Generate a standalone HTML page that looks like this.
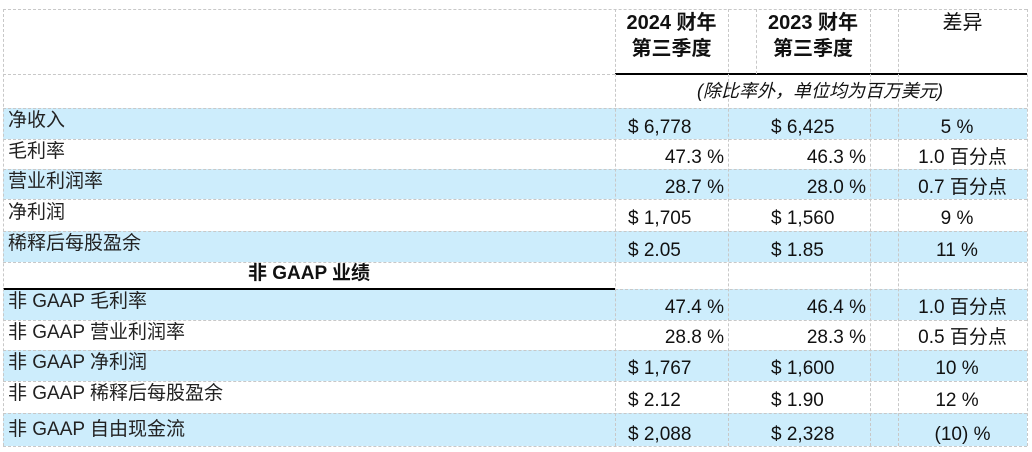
<!DOCTYPE html>
<html><head><meta charset="utf-8"><style>
body{margin:0;width:1032px;height:452px;background:#fff;position:relative;overflow:hidden;font-family:"Liberation Sans","Noto Sans CJK SC",sans-serif;color:#111}
.r{position:absolute;left:3px;width:1024px}
.b{background:#cdedfc}
.h{position:absolute;border-top:1px dashed #c8c8c8}
.v{position:absolute;border-left:1px dashed #c8c8c8}
.t{position:absolute;font-size:19px;line-height:22px;white-space:nowrap}
.l{left:8px;color:#222}
.c{text-align:center}
.hd{font-family:"Liberation Sans Narrow","Liberation Sans","Noto Sans CJK SC",sans-serif;font-size:20px;font-weight:bold;line-height:26px}
</style></head><body>
<div class="r b" style="top:108px;height:31px"></div>
<div class="r b" style="top:169px;height:30px"></div>
<div class="r b" style="top:231px;height:31px"></div>
<div class="r b" style="top:289px;height:31px"></div>
<div class="r b" style="top:350px;height:31px"></div>
<div class="r b" style="top:413px;height:33px"></div>
<div class="h" style="left:3px;width:1024px;top:9px"></div>
<div class="h" style="left:3px;width:612px;top:74px"></div>
<div style="position:absolute;left:615px;width:412px;top:73px;height:2px;background:#000"></div>
<div class="h" style="left:3px;width:1024px;top:108px"></div>
<div class="h" style="left:3px;width:1024px;top:139px"></div>
<div class="h" style="left:3px;width:1024px;top:169px"></div>
<div class="h" style="left:3px;width:1024px;top:199px"></div>
<div class="h" style="left:3px;width:1024px;top:231px"></div>
<div class="h" style="left:3px;width:1024px;top:262px"></div>
<div style="position:absolute;left:3px;width:612px;top:288px;height:2px;background:#000"></div>
<div class="h" style="left:615px;width:412px;top:289px"></div>
<div class="h" style="left:3px;width:1024px;top:320px"></div>
<div class="h" style="left:3px;width:1024px;top:350px"></div>
<div class="h" style="left:3px;width:1024px;top:381px"></div>
<div class="h" style="left:3px;width:1024px;top:413px"></div>
<div class="h" style="left:3px;width:1024px;top:446px"></div>
<div class="v" style="left:3px;top:9px;height:437px"></div>
<div class="v" style="left:615px;top:9px;height:437px"></div>
<div class="v" style="left:728px;top:9px;height:437px"></div>
<div class="v" style="left:756px;top:9px;height:65px"></div>
<div class="v" style="left:870px;top:9px;height:437px"></div>
<div class="v" style="left:898px;top:9px;height:437px"></div>
<div class="v" style="left:1027px;top:9px;height:437px"></div>

<div class="t c hd" style="left:615px;width:113px;top:10px">2024 财年<br>第三季度</div>
<div class="t c hd" style="left:756px;width:114px;top:10px">2023 财年<br>第三季度</div>
<div class="t c hd" style="left:898px;width:129px;top:10px;font-weight:normal">差异</div>
<div class="t" style="left:697px;top:80px;font-style:italic;font-size:18px">(除比率外，单位均为百万美元)</div>

<div class="t l" style="top:110px">净收入</div>
<div class="t l" style="top:141px">毛利率</div>
<div class="t l" style="top:171px">营业利润率</div>
<div class="t l" style="top:202px">净利润</div>
<div class="t l" style="top:233px">稀释后每股盈余</div>
<div class="t c" style="left:3px;width:612px;top:263px;font-weight:bold">非 GAAP 业绩</div>
<div class="t l" style="top:291px">非 GAAP 毛利率</div>
<div class="t l" style="top:322px">非 GAAP 营业利润率</div>
<div class="t l" style="top:352px">非 GAAP 净利润</div>
<div class="t l" style="top:383px">非 GAAP 稀释后每股盈余</div>
<div class="t l" style="top:419px">非 GAAP 自由现金流</div>

<div class="t" style="left:628px;top:117px">$ 6,778</div>
<div class="t" style="left:620px;width:104px;text-align:right;top:147px">47.3 %</div>
<div class="t" style="left:620px;width:104px;text-align:right;top:177px">28.7 %</div>
<div class="t" style="left:628px;top:208px">$ 1,705</div>
<div class="t" style="left:628px;top:240px">$ 2.05</div>
<div class="t" style="left:620px;width:104px;text-align:right;top:297px">47.4 %</div>
<div class="t" style="left:620px;width:104px;text-align:right;top:327px">28.8 %</div>
<div class="t" style="left:628px;top:358px">$ 1,767</div>
<div class="t" style="left:628px;top:390px">$ 2.12</div>
<div class="t" style="left:628px;top:424px">$ 2,088</div>

<div class="t" style="left:771px;top:117px">$ 6,425</div>
<div class="t" style="left:760px;width:106px;text-align:right;top:147px">46.3 %</div>
<div class="t" style="left:760px;width:106px;text-align:right;top:177px">28.0 %</div>
<div class="t" style="left:771px;top:208px">$ 1,560</div>
<div class="t" style="left:771px;top:240px">$ 1.85</div>
<div class="t" style="left:760px;width:106px;text-align:right;top:297px">46.4 %</div>
<div class="t" style="left:760px;width:106px;text-align:right;top:327px">28.3 %</div>
<div class="t" style="left:771px;top:358px">$ 1,600</div>
<div class="t" style="left:771px;top:390px">$ 1.90</div>
<div class="t" style="left:771px;top:424px">$ 2,328</div>

<div class="t c" style="left:898px;width:118px;top:117px">5 %</div>
<div class="t c" style="left:898px;width:129px;top:147px">1.0 百分点</div>
<div class="t c" style="left:898px;width:129px;top:177px">0.7 百分点</div>
<div class="t c" style="left:898px;width:118px;top:208px">9 %</div>
<div class="t c" style="left:898px;width:118px;top:240px">11 %</div>
<div class="t c" style="left:898px;width:129px;top:297px">1.0 百分点</div>
<div class="t c" style="left:898px;width:129px;top:327px">0.5 百分点</div>
<div class="t c" style="left:898px;width:118px;top:358px">10 %</div>
<div class="t c" style="left:898px;width:118px;top:390px">12 %</div>
<div class="t c" style="left:898px;width:129px;top:424px">(10) %</div>
</body></html>
